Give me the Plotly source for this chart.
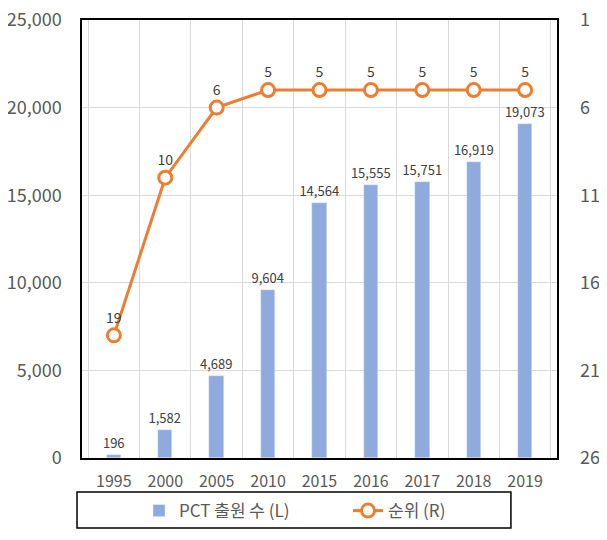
import plotly.graph_objects as go

years = ['1995', '2000', '2005', '2010', '2015', '2016', '2017', '2018', '2019']
pct_filings = [196, 1582, 4689, 9604, 14564, 15555, 15751, 16919, 19073]
rank = [19, 10, 6, 5, 5, 5, 5, 5, 5]

bar_color = '#8FAADC'
line_color = '#ED7D31'
font_family = 'Noto Sans CJK KR, Noto Sans, sans-serif'

fig = go.Figure()

fig.add_trace(go.Bar(
    x=years,
    y=pct_filings,
    name='PCT 출원 수 (L)',
    marker=dict(color=bar_color),
    width=0.28,
    text=[f'{v:,}' for v in pct_filings],
    textposition='outside',
    constraintext='none',
    textfont=dict(size=13, color='#404040'),
    cliponaxis=False,
))

fig.add_trace(go.Scatter(
    x=years,
    y=rank,
    name='순위 (R)',
    yaxis='y2',
    mode='lines+markers+text',
    line=dict(color=line_color, width=3),
    marker=dict(size=13, color='white', line=dict(color=line_color, width=3)),
    text=[str(r) for r in rank],
    textposition='top center',
    textfont=dict(size=14, color='#404040'),
    cliponaxis=False,
))

# legend box (Excel style frame around the legend)
fig.add_shape(type='rect', xref='paper', yref='paper',
              x0=-0.0105, x1=0.903, y0=-0.16, y1=-0.0776,
              line=dict(color='black', width=1.5))

# page body has an 8px margin; keep the figure small enough to avoid scrollbars
fig.update_layout(
    width=591,
    height=524,
    margin=dict(l=74, r=42, t=12, b=74, autoexpand=False),
    plot_bgcolor='white',
    paper_bgcolor='white',
    font=dict(family=font_family, color='#595959'),
    showlegend=True,
    legend=dict(
        orientation='h',
        x=0.12, xanchor='left',
        y=-0.08, yanchor='top',
        bgcolor='rgba(0,0,0,0)',
        font=dict(size=17, color='#595959'),
        itemwidth=30,
        entrywidth=164,
    ),
    xaxis=dict(
        type='category',
        tickson='boundaries',
        showgrid=True,
        gridcolor='#D9D9D9',
        showline=True, linecolor='black', linewidth=1.5, mirror=True,
        ticks='',
        tickfont=dict(size=16, color='#595959'),
        ticklabelstandoff=8,
        automargin=False,
    ),
    yaxis=dict(
        range=[0, 25000],
        tickvals=[0, 5000, 10000, 15000, 20000, 25000],
        tickformat=',',
        showgrid=True,
        gridcolor='#D9D9D9',
        showline=True, linecolor='black', linewidth=1.5, mirror=True,
        zeroline=False,
        tickfont=dict(size=18, color='#595959'),
        ticklabelstandoff=15,
        ticklabeloverflow='allow',
        automargin=False,
    ),
    yaxis2=dict(
        overlaying='y',
        side='right',
        range=[26, 1],
        tickvals=[1, 6, 11, 16, 21, 26],
        showgrid=False,
        zeroline=False,
        tickfont=dict(size=18, color='#595959'),
        ticklabelstandoff=22,
        ticklabeloverflow='allow',
        automargin=False,
    ),
    bargap=0,
)

fig.write_html('out.html')
